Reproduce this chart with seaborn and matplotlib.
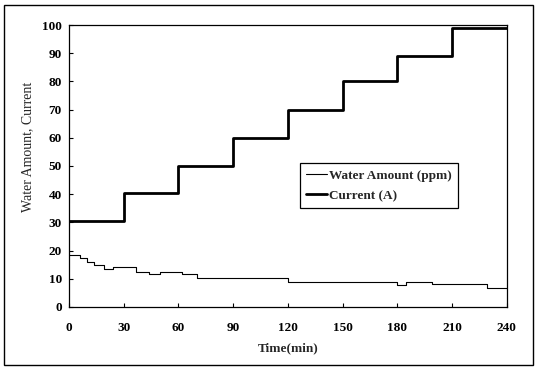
import matplotlib
matplotlib.use("Agg")
import matplotlib.pyplot as plt
import seaborn as sns
import pandas as pd
from matplotlib.patches import Rectangle

# Data
current_time = [0, 30, 60, 90, 120, 150, 180, 210, 240]
current_vals = [30.3, 40.3, 50.0, 60.0, 70.0, 80.0, 89.0, 99.0, 99.0]
water_time = [0, 6, 10, 14, 19, 24, 37, 44, 50, 62, 70, 120, 180, 185, 199, 229, 240]
water_vals = [18.4, 17.3, 16.1, 14.9, 13.5, 14.1, 12.5, 11.6, 12.5, 11.6, 10.2, 9.0, 7.8, 9.0, 8.0, 6.6, 6.6]
x_ticks = [0, 30, 60, 90, 120, 150, 180, 210, 240]
y_ticks = [0, 10, 20, 30, 40, 50, 60, 70, 80, 90, 100]

sns.set_theme(style="white")
plt.rcParams['font.family'] = ['Liberation Serif', 'DejaVu Serif']

fig = plt.figure(figsize=(5.38, 3.68), dpi=100)
ax = fig.add_axes([0.128, 0.166, 0.814, 0.766])

df_w = pd.DataFrame({"t": water_time, "v": water_vals})
df_c = pd.DataFrame({"t": current_time, "v": current_vals})
sns.lineplot(data=df_w, x="t", y="v", ax=ax, color="black", linewidth=0.8,
             drawstyle="steps-post", label="Water Amount (ppm)")
sns.lineplot(data=df_c, x="t", y="v", ax=ax, color="black", linewidth=2.0,
             drawstyle="steps-post", label="Current (A)")

ax.set_xlim(0, 240)
ax.set_ylim(0, 100)
ax.set_xticks(x_ticks)
ax.set_yticks(y_ticks)
ax.tick_params(direction="in", length=3, width=0.8, colors="black",
               labelsize=9.5, bottom=True, left=True)
ax.tick_params(axis="x", pad=11)
ax.tick_params(axis="y", pad=5)
for lab in ax.get_xticklabels() + ax.get_yticklabels():
    lab.set_fontweight("bold")
ax.set_xlabel("Time(min)", fontsize=9.5, fontweight="bold", labelpad=6)
ax.set_ylabel("Water Amount, Current", fontsize=10, fontweight="normal")
ax.yaxis.set_label_coords(-0.08, 0.567)
for s in ax.spines.values():
    s.set_color("black")
    s.set_linewidth(0.9)

leg = ax.legend(loc="upper left", bbox_to_anchor=(0.527, 0.511), frameon=True,
                fancybox=False, edgecolor="black", framealpha=1,
                prop={"weight": "bold", "size": 9.5}, handlelength=1.6,
                handletextpad=0.1, borderpad=0.5, labelspacing=0.6,
                borderaxespad=0)
leg.get_frame().set_linewidth(0.9)

fig.patches.append(Rectangle((0.0074, 0.008), 0.983, 0.978, transform=fig.transFigure,
                             fill=False, edgecolor="black", linewidth=1.0))

fig.savefig("out.png", dpi=100)
